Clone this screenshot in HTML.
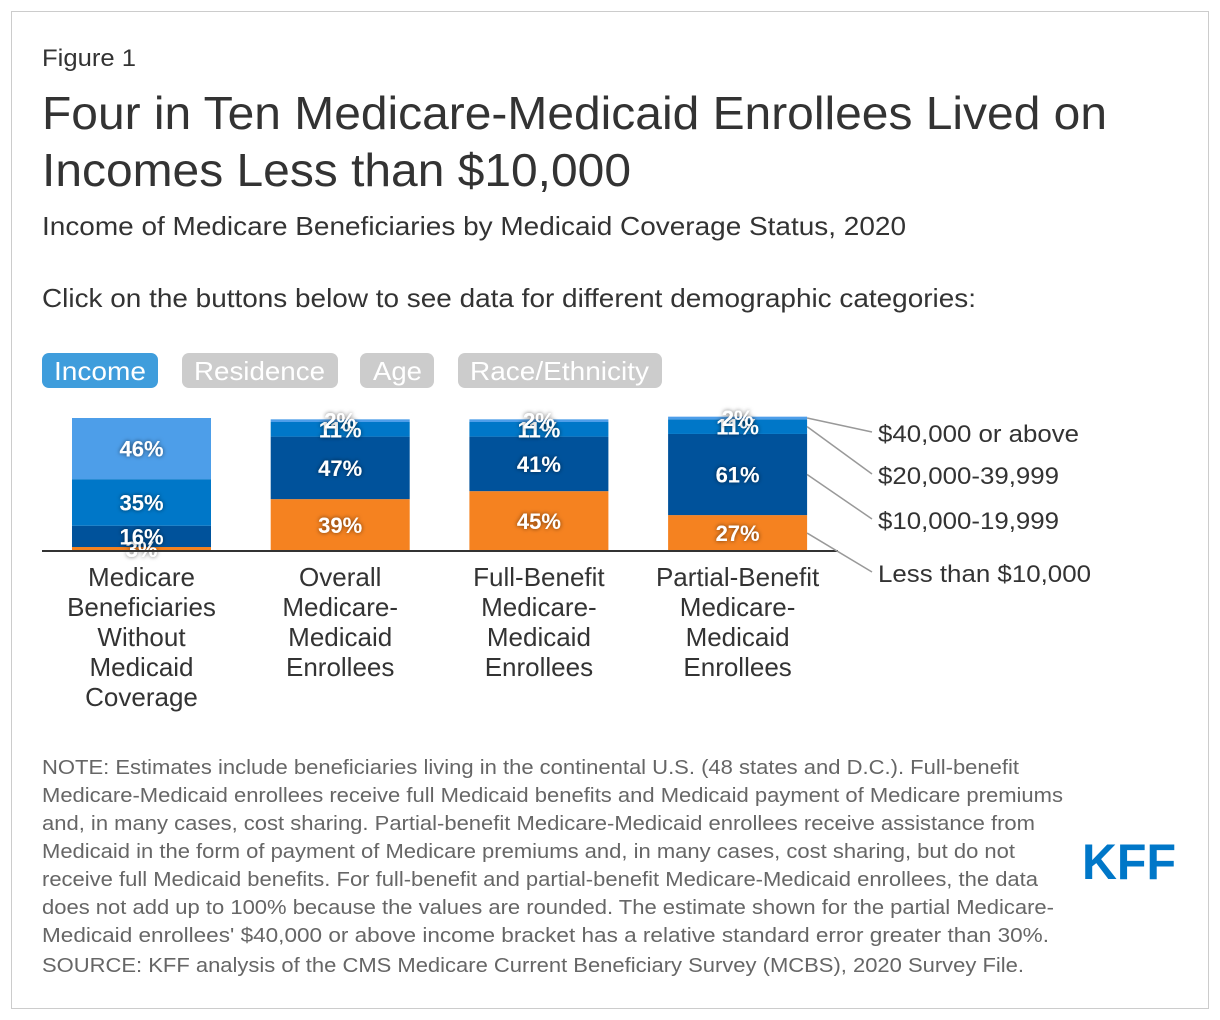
<!DOCTYPE html>
<html><head><meta charset="utf-8"><style>
body{margin:0;background:#fff;width:1220px;height:1020px;overflow:hidden}
svg{display:block;font-family:"Liberation Sans",Arial,sans-serif}
.lbl{font-weight:bold;font-size:22px;fill:#fff;text-anchor:middle;filter:url(#sh)}
</style></head><body>
<svg width="1220" height="1020" viewBox="0 0 1220 1020">
<defs><filter id="sh" x="-20%" y="-30%" width="140%" height="160%"><feDropShadow dx="0" dy="0" stdDeviation="2" flood-color="#000" flood-opacity="0.6"/></filter></defs>
<rect x="11.5" y="11.5" width="1197" height="997" fill="#fff" stroke="#ccc"/>
<text x="42" y="66" font-size="24" fill="#333" textLength="94" lengthAdjust="spacingAndGlyphs">Figure 1</text>
<text x="42" y="129" font-size="46" fill="#333" textLength="1065" lengthAdjust="spacingAndGlyphs">Four in Ten Medicare-Medicaid Enrollees Lived on</text>
<text x="42" y="186" font-size="46" fill="#333" textLength="589" lengthAdjust="spacingAndGlyphs">Incomes Less than $10,000</text>
<text x="42" y="235" font-size="26" fill="#333" textLength="864" lengthAdjust="spacingAndGlyphs">Income of Medicare Beneficiaries by Medicaid Coverage Status, 2020</text>
<text x="42" y="307" font-size="26" fill="#333" textLength="934" lengthAdjust="spacingAndGlyphs">Click on the buttons below to see data for different demographic categories:</text>
<g><rect x="42" y="353" width="116" height="35" rx="7" fill="#3f9ddc"/><text x="54" y="380" font-size="26" fill="#fff" textLength="92" lengthAdjust="spacingAndGlyphs">Income</text></g>
<g><rect x="182" y="353" width="156" height="35" rx="7" fill="#ccc"/><text x="194" y="380" font-size="26" fill="#fff" textLength="131" lengthAdjust="spacingAndGlyphs">Residence</text></g>
<g><rect x="360" y="353" width="74" height="35" rx="7" fill="#ccc"/><text x="373" y="380" font-size="26" fill="#fff" textLength="49" lengthAdjust="spacingAndGlyphs">Age</text></g>
<g><rect x="458" y="353" width="204" height="35" rx="7" fill="#ccc"/><text x="470" y="380" font-size="26" fill="#fff" textLength="179" lengthAdjust="spacingAndGlyphs">Race/Ethnicity</text></g>
<g id="chart"></g>
<g font-size="20" fill="#666" lengthAdjust="spacingAndGlyphs">
<text x="42" y="774" textLength="977" lengthAdjust="spacingAndGlyphs">NOTE: Estimates include beneficiaries living in the continental U.S. (48 states and D.C.). Full-benefit</text>
<text x="42" y="802" textLength="1021" lengthAdjust="spacingAndGlyphs">Medicare-Medicaid enrollees receive full Medicaid benefits and Medicaid payment of Medicare premiums</text>
<text x="42" y="830" textLength="993" lengthAdjust="spacingAndGlyphs">and, in many cases, cost sharing. Partial-benefit Medicare-Medicaid enrollees receive assistance from</text>
<text x="42" y="858" textLength="973" lengthAdjust="spacingAndGlyphs">Medicaid in the form of payment of Medicare premiums and, in many cases, cost sharing, but do not</text>
<text x="42" y="886" textLength="996" lengthAdjust="spacingAndGlyphs">receive full Medicaid benefits. For full-benefit and partial-benefit Medicare-Medicaid enrollees, the data</text>
<text x="42" y="914" textLength="1012" lengthAdjust="spacingAndGlyphs">does not add up to 100% because the values are rounded. The estimate shown for the partial Medicare-</text>
<text x="42" y="942" textLength="1007" lengthAdjust="spacingAndGlyphs">Medicaid enrollees' $40,000 or above income bracket has a relative standard error greater than 30%.</text>
<text x="42" y="972" textLength="982" lengthAdjust="spacingAndGlyphs">SOURCE: KFF analysis of the CMS Medicare Current Beneficiary Survey (MCBS), 2020 Survey File.</text>
</g>
<text x="1082" y="879" font-size="50" font-weight="bold" fill="#0077c8" textLength="94" lengthAdjust="spacingAndGlyphs">KFF</text>
</svg>
<script>
const categories=[["Medicare","Beneficiaries","Without","Medicaid","Coverage"],["Overall","Medicare-","Medicaid","Enrollees"],["Full-Benefit","Medicare-","Medicaid","Enrollees"],["Partial-Benefit","Medicare-","Medicaid","Enrollees"]];
const seriesNames=["Less than $10,000","$10,000-19,999","$20,000-39,999","$40,000 or above"];
const lessThan10k=[3,39,45,27];
const from10kTo20k=[16,47,41,61];
const from20kTo40k=[35,11,11,11];
const above40k=[46,2,2,2];
const colors=["#f58220","#00529b","#0077c8","#4d9ee9"];
const series=[lessThan10k,from10kTo20k,from20kTo40k,above40k];
const NS="http://www.w3.org/2000/svg";
const g=document.getElementById("chart");
const baseY=551,pxPer=1.33,x0=72,step=198.7,bw=139;
const y=v=>baseY-v*pxPer;
const xb=i=>x0+i*step;
function mk(t,a){const e=document.createElementNS(NS,t);for(const k in a)e.setAttribute(k,a[k]);g.appendChild(e);return e;}
const labels=[];
categories.forEach((c,i)=>{let cum=0;
 series.forEach((s,k)=>{const v=s[i];
  const r=mk("rect",{x:xb(i),y:y(cum+v),width:bw,height:v*pxPer,fill:colors[k]});
  
  
  labels.push([xb(i)+bw/2,y(cum+v/2)+8,v]);
  cum+=v;});
 c.forEach((ln,j)=>{const t=mk("text",{x:xb(i)+bw/2,y:586+j*30,"font-size":26,fill:"#333","text-anchor":"middle"});t.textContent=ln;
  
  });
});
labels.forEach(l=>{const t=mk("text",{x:l[0],y:l[1],class:"lbl"});t.textContent=l[2]+"%";
 
 });
const ax=mk("line",{x1:42,x2:838,y1:baseY,y2:baseY,stroke:"#333","stroke-width":2});


const last=categories.length-1,legY=[582,529,484,442],legW=[213,181,181,201];let cum=0;
series.forEach((s,k)=>{const v=s[last];const my=y(cum+v/2);cum+=v;
 const ln=mk("line",{x1:xb(last)+bw,y1:my,x2:872,y2:legY[k]-10,stroke:"#999","stroke-width":1.5});
 
 
 const t=mk("text",{x:878,y:legY[k],"font-size":24,fill:"#333",textLength:legW[k],lengthAdjust:"spacingAndGlyphs"});t.textContent=seriesNames[k];
 
 });
</script>
</body></html>
